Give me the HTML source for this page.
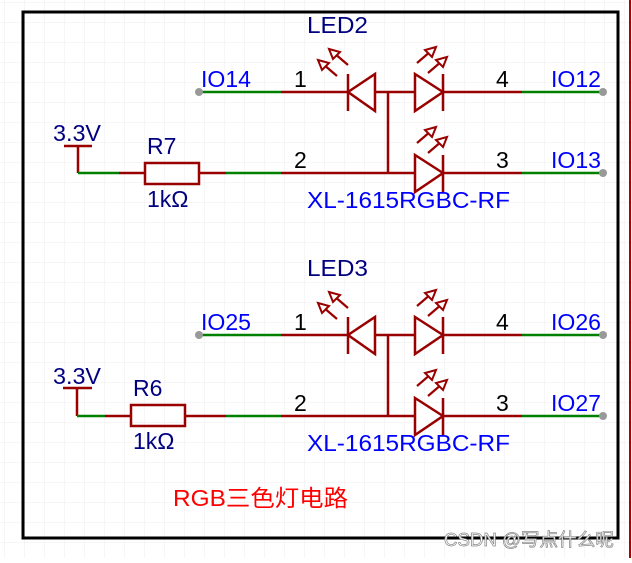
<!DOCTYPE html>
<html><head><meta charset="utf-8"><style>
html,body{margin:0;padding:0;background:#fff}
body{width:632px;height:558px;overflow:hidden}
text{font-family:"Liberation Sans","Noto Sans CJK SC",sans-serif}
</style></head><body>
<svg width="632" height="558" xmlns="http://www.w3.org/2000/svg">
<defs>
<pattern id="g" width="20" height="20" patternUnits="userSpaceOnUse" x="5" y="3">
<path d="M20 0V20M0 20H20" fill="none" stroke="#ececec" stroke-width="1"/>
</pattern>
<g id="arrL">
<line x1="0" y1="0" x2="-14" y2="-12" stroke="#990000" stroke-width="2.2"/>
<polygon points="-19,-16 -8,-13 -15,-6" fill="#fff" stroke="#990000" stroke-width="2"/>
</g>
<g id="arrR">
<line x1="0" y1="0" x2="14" y2="-12" stroke="#990000" stroke-width="2.2"/>
<polygon points="19,-16 8,-13 15,-6" fill="#fff" stroke="#990000" stroke-width="2"/>
</g>
<g id="blk" stroke-width="2.5" fill="none">
<line x1="199" y1="92" x2="281" y2="92" stroke="#008000"/>
<line x1="281" y1="92" x2="522" y2="92" stroke="#990000"/>
<polygon points="348,92 375,74 375,111" stroke="#990000" fill="#fff"/>
<line x1="348" y1="74" x2="348" y2="111" stroke="#990000"/>
<polygon points="443,92 415,74 415,111" stroke="#990000" fill="#fff"/>
<line x1="443" y1="74" x2="443" y2="111" stroke="#990000"/>
<line x1="522" y1="92" x2="603" y2="92" stroke="#008000"/>
<line x1="388" y1="92" x2="388" y2="173" stroke="#990000"/>
<line x1="226" y1="173" x2="281" y2="173" stroke="#008000"/>
<line x1="281" y1="173" x2="522" y2="173" stroke="#990000"/>
<polygon points="443,173 415,155 415,192" stroke="#990000" fill="#fff"/>
<line x1="443" y1="155" x2="443" y2="192" stroke="#990000"/>
<line x1="522" y1="173" x2="603" y2="173" stroke="#008000"/>
<use href="#arrL" x="337" y="76"/>
<use href="#arrL" x="348" y="65"/>
<use href="#arrR" x="417" y="63"/>
<use href="#arrR" x="428" y="73"/>
<use href="#arrR" x="417" y="143"/>
<use href="#arrR" x="428" y="153"/>
<circle cx="199" cy="92" r="4" fill="#999" stroke="none"/>
<circle cx="603" cy="92" r="4" fill="#999" stroke="none"/>
<circle cx="603" cy="173" r="4" fill="#999" stroke="none"/>
</g>
</defs>
<rect width="632" height="558" fill="url(#g)"/>
<rect x="23" y="12" width="595" height="526" fill="none" stroke="#000" stroke-width="3"/>
<line x1="630" y1="0" x2="630" y2="558" stroke="#b00000" stroke-width="2"/>

<use href="#blk"/>
<g transform="translate(0,243)"><use href="#blk"/></g>
<g stroke-width="2.5" fill="none">
<line x1="64" y1="146" x2="92" y2="146" stroke="#990000"/>
<line x1="78" y1="146" x2="78" y2="173" stroke="#990000"/>
<line x1="78" y1="173" x2="119" y2="173" stroke="#008000"/>
<line x1="119" y1="173" x2="145" y2="173" stroke="#990000"/>
<rect x="145" y="163" width="54" height="21" stroke="#990000"/>
<line x1="199" y1="173" x2="226" y2="173" stroke="#990000"/>

<line x1="63" y1="388" x2="92" y2="388" stroke="#990000"/>
<line x1="77" y1="388" x2="77" y2="416" stroke="#990000"/>
<line x1="77" y1="416" x2="105" y2="416" stroke="#008000"/>
<line x1="105" y1="416" x2="131" y2="416" stroke="#990000"/>
<rect x="131" y="405" width="54" height="21" stroke="#990000"/>
<line x1="185" y1="416" x2="226" y2="416" stroke="#990000"/>
</g>

<g font-size="23" lengthAdjust="spacingAndGlyphs">
<text x="307" y="33" fill="#000080" textLength="61" lengthAdjust="spacingAndGlyphs">LED2</text>
<text x="294" y="87" fill="#000">1</text>
<text x="294" y="168" fill="#000">2</text>
<text x="496" y="87" fill="#000">4</text>
<text x="496" y="168" fill="#000">3</text>
<text x="201" y="87" fill="#0000ff" textLength="50" lengthAdjust="spacingAndGlyphs">IO14</text>
<text x="551" y="87" fill="#0000ff" textLength="50" lengthAdjust="spacingAndGlyphs">IO12</text>
<text x="551" y="168" fill="#0000ff" textLength="50" lengthAdjust="spacingAndGlyphs">IO13</text>
<text x="307" y="208" fill="#0000ff" textLength="203" lengthAdjust="spacingAndGlyphs">XL-1615RGBC-RF</text>
<text x="53" y="141" fill="#000080" textLength="48" lengthAdjust="spacingAndGlyphs">3.3V</text>
<text x="147" y="154" fill="#000080">R7</text>
<text x="147" y="207" fill="#000080">1kΩ</text>

<text x="307" y="276" fill="#000080" textLength="61" lengthAdjust="spacingAndGlyphs">LED3</text>
<text x="294" y="330" fill="#000">1</text>
<text x="294" y="411" fill="#000">2</text>
<text x="496" y="330" fill="#000">4</text>
<text x="496" y="411" fill="#000">3</text>
<text x="201" y="330" fill="#0000ff" textLength="50" lengthAdjust="spacingAndGlyphs">IO25</text>
<text x="551" y="330" fill="#0000ff" textLength="50" lengthAdjust="spacingAndGlyphs">IO26</text>
<text x="551" y="411" fill="#0000ff" textLength="50" lengthAdjust="spacingAndGlyphs">IO27</text>
<text x="307" y="451" fill="#0000ff" textLength="203" lengthAdjust="spacingAndGlyphs">XL-1615RGBC-RF</text>
<text x="53" y="384" fill="#000080" textLength="48" lengthAdjust="spacingAndGlyphs">3.3V</text>
<text x="133" y="396" fill="#000080">R6</text>
<text x="133" y="449" fill="#000080">1kΩ</text>

<text x="173" y="506" fill="#ff0000" textLength="175" lengthAdjust="spacingAndGlyphs">RGB三色灯电路</text>
</g>
<text x="444" y="546" font-size="18" fill="#fff" stroke="#888" stroke-width="0.7" textLength="170" lengthAdjust="spacingAndGlyphs">CSDN @写点什么呢</text>
</svg>
</body></html>
